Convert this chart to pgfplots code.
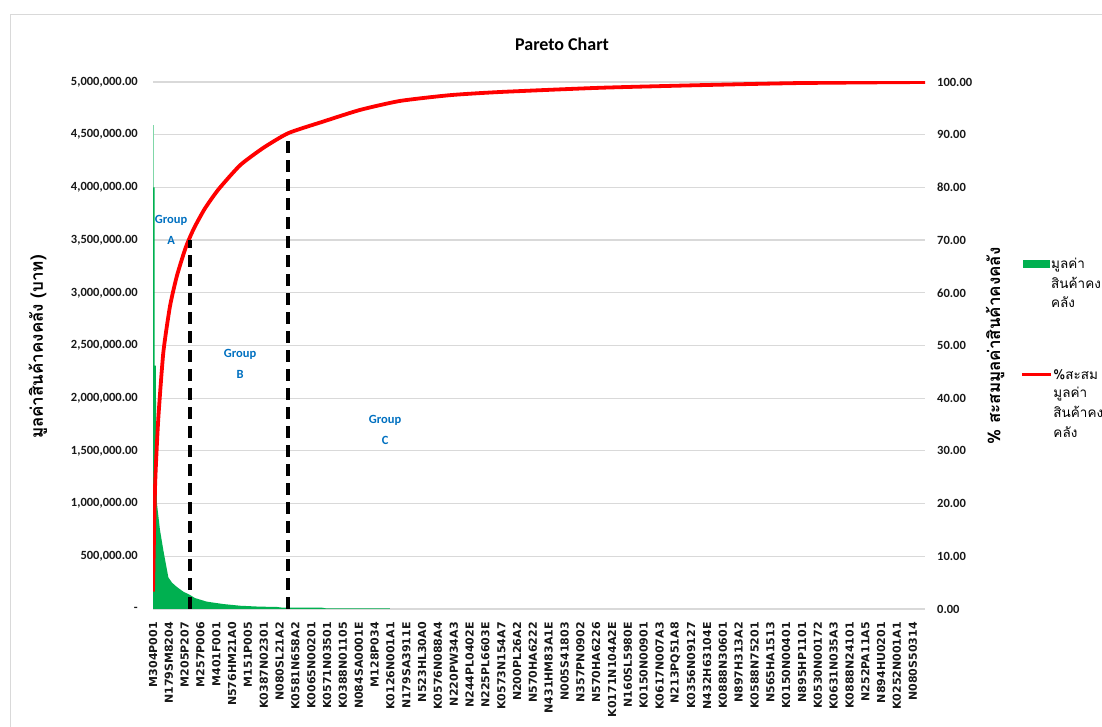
\documentclass[border=0pt]{standalone}
\usepackage{fontspec}
\setmainfont{Carlito}
\newfontfamily\thai[Script=Thai]{Loma}
\newfontfamily\dejavu{DejaVu Sans}
\usepackage{pgfplots}
\pgfplotsset{compat=1.18}
\definecolor{xlgreen}{RGB}{0,176,80}
\definecolor{xlblue}{RGB}{0,112,192}
\definecolor{gridgray}{RGB}{217,217,217}

\pgfplotsset{
  paretobase/.style={
    at={(153pt,118pt)}, anchor=south west,
    scale only axis, width=772pt, height=527pt,
    xmin=0, xmax=48.77,
    major tick length=0pt,
    tick label style={font=\bfseries\fontsize{12.5}{14}\selectfont, text=black!90},
    legend cell align=left,
    legend style={draw=none, fill=none, font=\thai\fontsize{13.5}{15}\selectfont,
      row sep=5pt, nodes={inner sep=1pt}},
  },
}

\begin{document}
\begin{tikzpicture}
\useasboundingbox (0,0) rectangle (1102pt,727pt);
\draw[gridgray, line width=1pt] (10pt,-5pt) -- (10pt,712pt) -- (1110pt,712pt);

% left axis: inventory value per item
\begin{axis}[
  paretobase,
  ymin=0, ymax=5000000,
  axis x line*=bottom, axis y line*=left,
  x axis line style={gridgray, line width=1.5pt, -},
  y axis line style={draw=none},
  ymajorgrids, grid style={gridgray, line width=1.2pt},
  scaled y ticks=false,
  ytick={0,500000,1000000,1500000,2000000,2500000,3000000,3500000,4000000,4500000,5000000},
  yticklabels={{-\hspace{6pt}},{500,000.00},{1,000,000.00},{1,500,000.00},{2,000,000.00},{2,500,000.00},
    {3,000,000.00},{3,500,000.00},{4,000,000.00},{4,500,000.00},{5,000,000.00}},
  yticklabel style={anchor=east, inner sep=0pt},
  yticklabel shift=15pt,
  xtick={0,...,48},
  xticklabels={M304P001,N179SM8204,M205P207,M257P006,M401F001,N576HM21A0,M151P005,
    K0387N02301,N080SL21A2,K0581N658A2,K0065N00201,K0571N03501,K0388N01105,N084SA0001E,
    M128P034,K0126N001A1,N179SA3911E,N523HL30A0,K0576N088A4,N220PW34A3,N244PL0402E,
    N225PL6603E,K0573N154A7,N200PL26A2,N570HA6222,N431HM83A1E,N005S41803,N357PN0902,
    N570HA6226,K0171N104A2E,N160SL5980E,K0150N00901,K0617N007A3,N213PQ51A8,K0356N09127,
    N432H63104E,K0888N30601,N897H313A2,K0588N75201,N565HA1513,K0150N00401,N895HP1101,
    K0530N00172,K0631N035A3,K0888N24101,N252PA11A5,N894HU0201,K0252N001A1,N080S50314},
  xticklabel style={rotate=90, anchor=east, inner sep=0pt,
    font=\dejavu\bfseries\fontsize{11}{12}\selectfont},
  xticklabel shift=13pt,
  title={Pareto Chart},
  title style={at={(axis description cs:0.5298,1.06)}, anchor=center,
    font=\bfseries\fontsize{18}{20}\selectfont},
  ylabel={\thai\bfseries มูลค่าสินค้าคงคลัง (บาท)},
  ylabel style={at={(axis description cs:-0.149,0.497)}, anchor=center, rotate=0,
    font=\fontsize{17}{19}\selectfont},
  legend style={at={(axis description cs:1.123,0.6717)}, anchor=north west},
]
  % first item (thin, lighter bar)
  \addplot[xlgreen!50, line width=1.5pt, forget plot] coordinates {(0.02,0) (0.02,4590000)};
  % item values, sorted descending
  \addplot[fill=xlgreen, draw=none,
    legend image code/.code={\fill[xlgreen] (0pt,-4pt) rectangle (27pt,4pt);}]
    coordinates {
    (0,0) (0,4000000) (0.1,4000000) (0.1,2310000) (0.18,2310000) (0.2,1600000)
    (0.25,1000000) (0.44,750000) (0.65,560000) (0.97,300000) (1.2,250000)
    (1.5,210000) (1.92,164000) (2.34,133000) (2.65,104000) (3.39,70000)
    (4.44,47000) (5.5,31000) (6.76,22000) (7.8,20000) (8.2,12000) (10.7,12000)
    (10.9,7000) (14.97,7000) (14.97,0)
  } \closedcycle;
  \addlegendentry{มูลค่า}
  \addlegendimage{empty legend}\addlegendentry{สินค้าคง}
  \addlegendimage{empty legend}\addlegendentry{คลัง}
\end{axis}

% right axis: cumulative percentage
\begin{axis}[
  paretobase,
  ymin=0, ymax=100,
  axis x line=none, axis y line*=right,
  y axis line style={draw=none},
  ytick={0,10,20,30,40,50,60,70,80,90,100},
  yticklabels={0.00,10.00,20.00,30.00,40.00,50.00,60.00,70.00,80.00,90.00,100.00},
  yticklabel style={anchor=west, inner sep=0pt},
  yticklabel shift=12pt,
  ylabel={\thai\bfseries \% สะสมมูลค่าสินค้าคงคลัง},
  ylabel style={at={(axis description cs:1.0907,0.499)}, anchor=center,
    font=\fontsize{17}{19}\selectfont},
  legend style={at={(axis description cs:1.1195,0.4611)}, anchor=north west},
]
  \addplot[red, line width=3.8pt, line join=round, smooth, tension=0.35,
    legend image code/.code={\draw[red, line width=3pt] (0pt,0pt) -- (29pt,0pt);}]
    coordinates {
    (0,3.3) (0.13,23.2) (0.33,35.9) (0.65,48.6) (1.07,57.4) (1.5,63.1) (2.02,68.2)
    (2.34,70.6) (2.65,72.6) (3.28,76.0) (4.13,79.6) (5.5,84.2) (6.97,87.5)
    (8.55,90.3) (10.76,92.5) (13.08,94.7) (15.6,96.4) (18.76,97.5) (21.92,98.1)
    (28.24,98.9) (34.55,99.4) (40.87,99.8) (48.77,100)
  };
  \addlegendentry{\%สะสม}
  \addlegendimage{empty legend}\addlegendentry{มูลค่า}
  \addlegendimage{empty legend}\addlegendentry{สินค้าคง}
  \addlegendimage{empty legend}\addlegendentry{คลัง}
  % ABC class boundaries
  \addplot[black, line width=3.8pt, dash pattern=on 12pt off 7pt, forget plot]
    coordinates {(2.34,0) (2.34,70)};
  \addplot[black, line width=3.8pt, dash pattern=on 12pt off 7pt, forget plot]
    coordinates {(8.53,0) (8.53,90)};
  \node[xlblue, align=center, font=\bfseries\fontsize{12.5}{21}\selectfont]
    at (axis cs:1.14,72) {Group\\A};
  \node[xlblue, align=center, font=\bfseries\fontsize{12.5}{21}\selectfont]
    at (axis cs:5.5,46.5) {Group\\B};
  \node[xlblue, align=center, font=\bfseries\fontsize{12.5}{21}\selectfont]
    at (axis cs:14.66,34) {Group\\C};
\end{axis}
\end{tikzpicture}
\end{document}
